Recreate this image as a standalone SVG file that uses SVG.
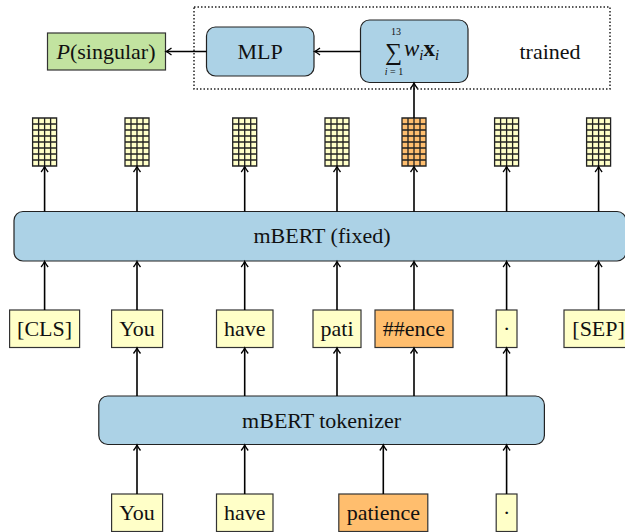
<svg xmlns="http://www.w3.org/2000/svg" xmlns:xlink="http://www.w3.org/1999/xlink" width="625" height="532" viewBox="0 0 625 532">
<style>
  text { font-family: "Liberation Serif", "Times New Roman", serif; fill: #111; }
  .lbl { font-size: 22px; text-anchor: middle; }
  .blue { fill: #acd2e6; stroke: #222; stroke-width: 1.2; }
  .yel { fill: #ffffc8; stroke: #333; stroke-width: 1.2; }
  .org { fill: #ffbe6e; stroke: #333; stroke-width: 1.2; }
  .grn { fill: #c2e3a0; stroke: #333; stroke-width: 1.2; }
  .conn line { stroke: #000; stroke-width: 1.6; marker-end: url(#arr); }
  .gl { stroke: #222; stroke-width: 1.3; fill: none; }
</style>
<defs>
  <marker id="arr" markerWidth="10" markerHeight="10" viewBox="-6 -5 8 10" refX="0" refY="0" orient="auto" markerUnits="userSpaceOnUse">
    <path d="M-5,-3.5 Q-1.5,-0.8 0.5,0 Q-1.5,0.8 -5,3.5" fill="none" stroke="#000" stroke-width="1.3"/>
  </marker>
  <path id="gridlines" class="gl" d="M0,0 h24 v48 h-24 Z M6,0 v48 M12,0 v48 M18,0 v48 M0,6 h24 M0,12 h24 M0,18 h24 M0,24 h24 M0,30 h24 M0,36 h24 M0,42 h24"/>
</defs>

<!-- trained region -->
<g id="trained-region">
  <rect x="194" y="7" width="416" height="82" fill="none" stroke="#222" stroke-width="1.5" stroke-dasharray="1.5 2"/>
  <text class="lbl" x="550" y="59">trained</text>
</g>

<g id="p-singular">
  <rect class="grn" x="47.5" y="33" width="118" height="37"/>
  <text class="lbl" x="106" y="59"><tspan font-style="italic">P</tspan>(singular)</text>
</g>

<g id="mlp">
  <rect class="blue" x="206.5" y="27" width="107.5" height="49" rx="9"/>
  <text class="lbl" x="260" y="59">MLP</text>
</g>

<g id="weighted-sum">
  <rect class="blue" x="360.5" y="20" width="107.5" height="62.5" rx="9"/>
  <text x="396" y="35" font-size="10" text-anchor="middle">13</text>
  <text x="393.5" y="60" font-size="24" text-anchor="middle">∑</text>
  <text x="404" y="56" font-size="23"><tspan font-style="italic">w</tspan><tspan font-style="italic" font-size="15" dy="4">i</tspan><tspan font-weight="bold" dy="-4">x</tspan><tspan font-style="italic" font-size="15" dy="4">i</tspan></text>
  <text x="394" y="75" font-size="10" text-anchor="middle"><tspan font-style="italic">i</tspan> = 1</text>
</g>

<!-- embedding vectors -->
<g id="vec-cls"><rect x="32.6" y="118" width="24" height="48" fill="#ffffc8"/><use xlink:href="#gridlines" x="32.6" y="118"/></g>
<g id="vec-you"><rect x="125" y="118" width="24" height="48" fill="#ffffc8"/><use xlink:href="#gridlines" x="125" y="118"/></g>
<g id="vec-have"><rect x="232.7" y="118" width="24" height="48" fill="#ffffc8"/><use xlink:href="#gridlines" x="232.7" y="118"/></g>
<g id="vec-pati"><rect x="325" y="118" width="24" height="48" fill="#ffffc8"/><use xlink:href="#gridlines" x="325" y="118"/></g>
<g id="vec-ence"><rect x="402" y="118" width="24" height="48" fill="#ffbe6e"/><use xlink:href="#gridlines" x="402" y="118"/></g>
<g id="vec-dot"><rect x="494.6" y="118" width="24" height="48" fill="#ffffc8"/><use xlink:href="#gridlines" x="494.6" y="118"/></g>
<g id="vec-sep"><rect x="586.6" y="118" width="24" height="48" fill="#ffffc8"/><use xlink:href="#gridlines" x="586.6" y="118"/></g>

<g id="mbert">
  <rect class="blue" x="14" y="211.5" width="612" height="49.5" rx="9"/>
  <text class="lbl" x="322" y="243">mBERT (fixed)</text>
</g>

<!-- wordpiece tokens -->
<g id="tok-cls"><rect class="yel" x="9.6" y="310" width="70" height="37.5"/><text class="lbl" x="44.6" y="336">[CLS]</text></g>
<g id="tok-you"><rect class="yel" x="111.6" y="310" width="51" height="37.5"/><text class="lbl" x="137" y="336">You</text></g>
<g id="tok-have"><rect class="yel" x="216.5" y="310" width="56.5" height="37.5"/><text class="lbl" x="244.7" y="336">have</text></g>
<g id="tok-pati"><rect class="yel" x="313" y="310" width="48" height="37.5"/><text class="lbl" x="337" y="336">pati</text></g>
<g id="tok-ence"><rect class="org" x="375" y="310" width="78" height="37.5"/><text class="lbl" x="414" y="336">##ence</text></g>
<g id="tok-dot"><rect class="yel" x="496.2" y="310" width="20.8" height="37.5"/><text class="lbl" x="506.6" y="336">·</text></g>
<g id="tok-sep"><rect class="yel" x="564" y="310" width="69" height="37.5"/><text class="lbl" x="598.6" y="336">[SEP]</text></g>

<g id="tokenizer">
  <rect class="blue" x="98.8" y="396" width="445.6" height="48.5" rx="9"/>
  <text class="lbl" x="321.6" y="428">mBERT tokenizer</text>
</g>

<!-- input words -->
<g id="word-you"><rect class="yel" x="111.6" y="494" width="51" height="37.5"/><text class="lbl" x="137" y="520">You</text></g>
<g id="word-have"><rect class="yel" x="216.5" y="494" width="56.5" height="37.5"/><text class="lbl" x="244.7" y="520">have</text></g>
<g id="word-patience"><rect class="org" x="338.8" y="494" width="89" height="37.5"/><text class="lbl" x="383.3" y="520">patience</text></g>
<g id="word-dot"><rect class="yel" x="496.2" y="494" width="20.8" height="37.5"/><text class="lbl" x="506.6" y="520">·</text></g>

<g id="connectors" class="conn">
  <line x1="206.5" y1="51.5" x2="166.5" y2="51.5"/>
  <line x1="360.5" y1="51.5" x2="315" y2="51.5"/>
  <line x1="414" y1="118" x2="414" y2="83.5"/>
  <line x1="44.6" y1="211.5" x2="44.6" y2="167"/>
  <line x1="137" y1="211.5" x2="137" y2="167"/>
  <line x1="244.7" y1="211.5" x2="244.7" y2="167"/>
  <line x1="337" y1="211.5" x2="337" y2="167"/>
  <line x1="414" y1="211.5" x2="414" y2="167"/>
  <line x1="506.6" y1="211.5" x2="506.6" y2="167"/>
  <line x1="598.6" y1="211.5" x2="598.6" y2="167"/>
  <line x1="44.6" y1="310" x2="44.6" y2="262"/>
  <line x1="137" y1="310" x2="137" y2="262"/>
  <line x1="244.7" y1="310" x2="244.7" y2="262"/>
  <line x1="337" y1="310" x2="337" y2="262"/>
  <line x1="414" y1="310" x2="414" y2="262"/>
  <line x1="506.6" y1="310" x2="506.6" y2="262"/>
  <line x1="598.6" y1="310" x2="598.6" y2="262"/>
  <line x1="137" y1="396" x2="137" y2="348.5"/>
  <line x1="244.7" y1="396" x2="244.7" y2="348.5"/>
  <line x1="337" y1="396" x2="337" y2="348.5"/>
  <line x1="414" y1="396" x2="414" y2="348.5"/>
  <line x1="506.6" y1="396" x2="506.6" y2="348.5"/>
  <line x1="137" y1="494" x2="137" y2="445.5"/>
  <line x1="244.7" y1="494" x2="244.7" y2="445.5"/>
  <line x1="383.3" y1="494" x2="383.3" y2="445.5"/>
  <line x1="506.6" y1="494" x2="506.6" y2="445.5"/>
</g>
</svg>
